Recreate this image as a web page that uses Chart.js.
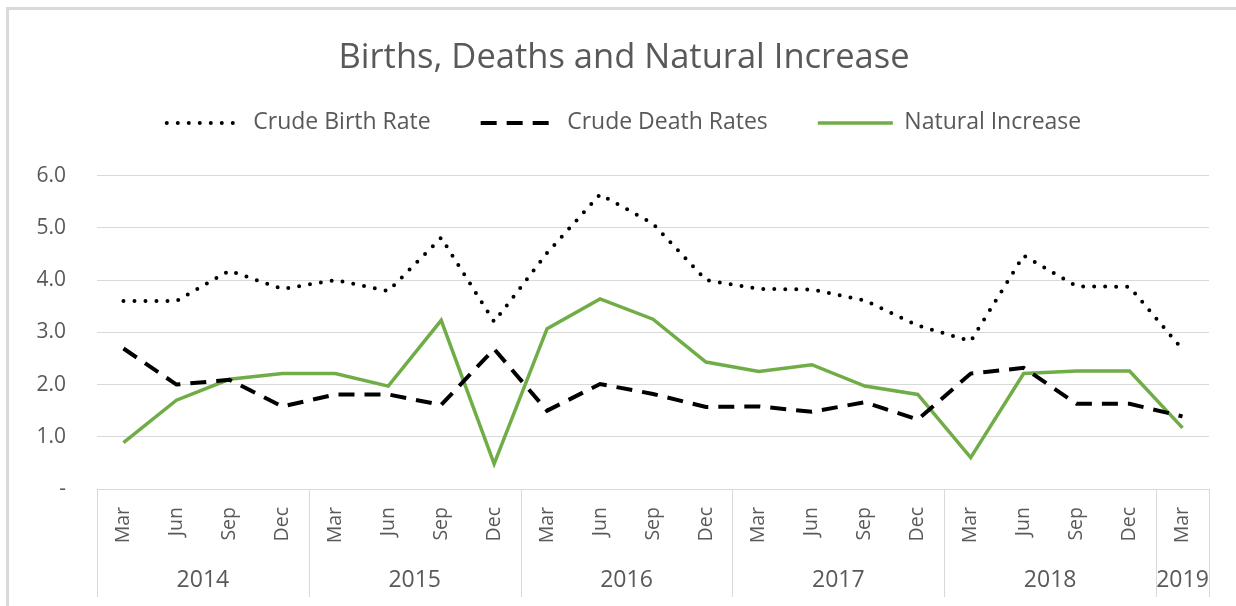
<!DOCTYPE html>
<html lang="en">
<head>
    <meta charset="UTF-8">
    <title>Births, Deaths and Natural Increase</title>
    <style>
        html, body { margin: 0; padding: 0; background: #fff; }
        #wrap { width: 1236px; height: 606px; position: relative; }
    </style>
</head>
<body>
    <div id="wrap"><canvas id="myChart"></canvas></div>

    <script src="https://cdn.jsdelivr.net/npm/chart.js"></script>
    <script>
        // quarters shown on the axis
        const months = ['Mar','Jun','Sep','Dec','Mar','Jun','Sep','Dec','Mar','Jun','Sep','Dec',
                        'Mar','Jun','Sep','Dec','Mar','Jun','Sep','Dec','Mar'];
        const years = ['2014','2015','2016','2017','2018','2019'];
        const yearSpans = [4, 4, 4, 4, 4, 1];

        const birthRate = [3.60, 3.60, 4.18, 3.83, 4.00, 3.79, 4.81, 3.20, 4.52, 5.64, 5.08,
                           4.00, 3.83, 3.82, 3.61, 3.13, 2.83, 4.47, 3.88, 3.87, 2.67];
        const deathRate = [2.69, 2.00, 2.09, 1.58, 1.81, 1.81, 1.61, 2.68, 1.50, 2.01, 1.82,
                           1.57, 1.58, 1.48, 1.66, 1.33, 2.21, 2.32, 1.63, 1.63, 1.39];
        const naturalIncrease = [0.89, 1.70, 2.10, 2.21, 2.21, 1.97, 3.23, 0.48, 3.07, 3.64, 3.25,
                                 2.43, 2.25, 2.38, 1.97, 1.81, 0.60, 2.21, 2.26, 2.26, 1.17];

        const textColor = '#595959';
        const fontFamily = '"Open Sans", sans-serif';

        // white background, frame, year row with separators
        const yearAxis = {
            id: 'yearAxis',
            beforeDraw(chart) {
                const ctx = chart.ctx;
                ctx.save();
                ctx.fillStyle = '#fff';
                ctx.fillRect(0, 0, chart.width, chart.height);
                ctx.strokeStyle = '#d9d9d9';
                ctx.lineWidth = 3;
                ctx.beginPath();
                ctx.moveTo(7.5, chart.height);
                ctx.lineTo(7.5, 8.5);
                ctx.lineTo(chart.width, 8.5);
                ctx.stroke();
                ctx.restore();
            },
            afterDraw(chart) {
                const ctx = chart.ctx;
                const x = chart.scales.x;
                const top = chart.chartArea.bottom;
                const bottom = x.bottom;
                const half = (x.getPixelForValue(1) - x.getPixelForValue(0)) / 2;
                ctx.save();
                ctx.strokeStyle = '#d9d9d9';
                ctx.lineWidth = 1;
                ctx.fillStyle = textColor;
                ctx.font = '23px ' + fontFamily;
                ctx.textAlign = 'center';
                ctx.textBaseline = 'middle';
                let start = 0;
                const edges = [x.getPixelForValue(0) - half];
                yearSpans.forEach((span, i) => {
                    const end = start + span - 1;
                    const left = x.getPixelForValue(start) - half;
                    const right = x.getPixelForValue(end) + half;
                    edges.push(right);
                    ctx.fillText(years[i], (left + right) / 2, bottom - 17);
                    start += span;
                });
                edges.forEach(px => {
                    const p = Math.round(px) + 0.5;
                    ctx.beginPath();
                    ctx.moveTo(p, top);
                    ctx.lineTo(p, bottom);
                    ctx.stroke();
                });
                ctx.restore();
            }
        };

        const ctx = document.getElementById('myChart').getContext('2d');
        new Chart(ctx, {
            type: 'line',
            data: {
                labels: months,
                datasets: [
                    {
                        label: 'Crude Birth Rate',
                        data: birthRate,
                        borderColor: '#000',
                        borderWidth: 4,
                        borderDash: [0, 11],
                        borderCapStyle: 'round',
                        pointRadius: 0,
                        tension: 0
                    },
                    {
                        label: 'Crude Death Rates',
                        data: deathRate,
                        borderColor: '#000',
                        borderWidth: 4,
                        borderDash: [16, 10],
                        borderCapStyle: 'butt',
                        pointRadius: 0,
                        tension: 0
                    },
                    {
                        label: 'Natural Increase',
                        data: naturalIncrease,
                        borderColor: '#70ad47',
                        borderWidth: 3.5,
                        pointRadius: 0,
                        tension: 0
                    }
                ]
            },
            options: {
                responsive: true,
                maintainAspectRatio: false,
                animation: false,
                layout: { padding: { top: 8, left: 12, right: 0, bottom: 9 } },
                plugins: {
                    title: {
                        display: true,
                        text: 'Births, Deaths and Natural Increase',
                        color: textColor,
                        font: { family: fontFamily, size: 34.5, weight: 'normal' },
                        padding: { top: 29, bottom: -17 }
                    },
                    subtitle: {
                        // empty spacer between legend and plot
                        display: true,
                        text: ' ',
                        weight: 500,
                        font: { size: 1 },
                        padding: { top: 0, bottom: 30 }
                    },
                    legend: {
                        display: true,
                        labels: {
                            color: textColor,
                            font: { family: fontFamily, size: 23 },
                            usePointStyle: true,
                            pointStyle: 'line',
                            pointStyleWidth: 75,
                            padding: 50,
                            generateLabels(chart) {
                                const items = Chart.defaults.plugins.legend.labels.generateLabels(chart);
                                items.forEach((item, i) => {
                                    const ds = chart.data.datasets[i];
                                    item.lineDash = ds.borderDash || [];
                                    item.lineCap = ds.borderCapStyle || 'butt';
                                    item.lineWidth = ds.borderWidth;
                                    item.strokeStyle = ds.borderColor;
                                });
                                return items;
                            }
                        }
                    },
                    tooltip: { enabled: false }
                },
                scales: {
                    x: {
                        offset: true,
                        grid: { display: false, drawTicks: false },
                        border: { display: false },
                        ticks: {
                            color: textColor,
                            font: { family: fontFamily, size: 19.5 },
                            minRotation: 90,
                            maxRotation: 90,
                            autoSkip: false,
                            padding: 18
                        },
                        afterFit(scale) { scale.height = 108; }
                    },
                    y: {
                        min: 0,
                        max: 6,
                        grid: { color: '#d9d9d9', drawTicks: false },
                        border: { display: false },
                        ticks: {
                            stepSize: 1,
                            color: textColor,
                            font: { family: fontFamily, size: 21 },
                            padding: 31,
                            callback: v => v === 0 ? '-' : v.toFixed(1)
                        },
                        afterFit(scale) { scale.width = 85; }
                    },
                    // blank right-hand margin so the title stays centred on the page
                    yRight: {
                        position: 'right',
                        min: 0,
                        max: 6,
                        grid: { display: false, drawTicks: false },
                        border: { display: false },
                        ticks: { display: false },
                        afterFit(scale) { scale.width = 27; }
                    }
                }
            },
            plugins: [yearAxis]
        });
    </script>
</body>
</html>
